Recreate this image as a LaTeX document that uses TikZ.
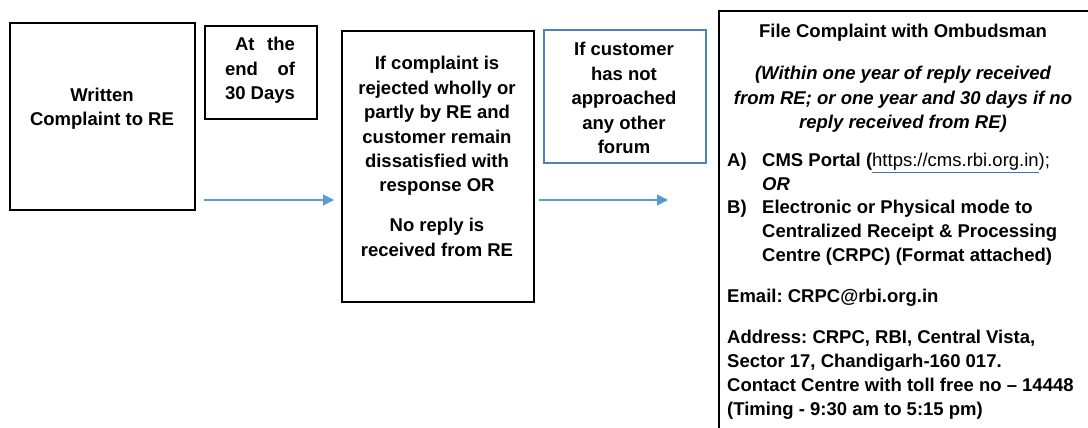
\documentclass[tikz,border=0pt]{standalone}
\usepackage{fontspec}
\setmainfont{Liberation Sans}
\usetikzlibrary{arrows.meta}
\definecolor{arrowblue}{RGB}{91,155,213}
\definecolor{frameblue}{RGB}{79,129,189}
\definecolor{linkblue}{RGB}{68,114,196}
\newcommand\linkul[1]{{\color{linkblue}\underline{\color{black}#1}}}
\frenchspacing
\begin{document}
\begin{tikzpicture}[x=1pt,y=-1pt,
  box/.style={draw=black, line width=1.8pt, anchor=north west, inner sep=0pt},
  txt/.style={font=\frenchspacing\bfseries\fontsize{18.5}{24.4}\selectfont, align=center, inner sep=0pt},
  rtxt/.style={font=\frenchspacing\bfseries\fontsize{18.5}{24.4}\selectfont, inner sep=0pt, anchor=base west},
  flow/.style={draw=arrowblue, line width=1.2pt, -{Triangle[length=11pt,width=11pt]}}]
\useasboundingbox (0,0) rectangle (1088,428);
\clip (0,0) rectangle (1088,428);
\fill[white] (0,0) rectangle (1088,428);

\node[box, minimum width=185pt, minimum height=187pt] (b1) at (9,22) {};
\node[txt] (t1) at (102,108.5) {Written\\Complaint to RE};

\node[box, minimum width=112pt, minimum height=93pt] (b2) at (204,25) {};
\node[txt] (t2) at (260,70.5) {\hspace*{10pt}\makebox[60pt][s]{At the}\\\makebox[70pt][s]{end of}\\30 Days};

\node[box, minimum width=192pt, minimum height=271pt] (b3) at (341,30) {};
\node[txt] (t3) at (437,156.5) {If complaint is\\rejected wholly or\\partly by RE and\\customer remain\\dissatisfied with\\response OR\\[15.6pt]No reply is\\received from RE};

\node[box, draw=frameblue, line width=1.6pt, minimum width=162pt, minimum height=133pt] (b4) at (543,29) {};
\node[txt] (t4) at (624,98) {If customer\\has not\\approached\\any other\\forum};

\node[box, minimum width=380pt, minimum height=440pt] (b5) at (718,10) {};

\coordinate (a1s) at (204,200);
\coordinate (a1e) at (334,200);
\draw[flow] (a1s) -- (a1e);
\coordinate (a2s) at (539,200);
\coordinate (a2e) at (668,200);
\draw[flow] (a2s) -- (a2e);

\node[txt, anchor=base] (r0) at (903,37.5) {File Complaint with Ombudsman};
\node[txt, anchor=base] (r1) at (903,79.5) {\itshape (Within one year of reply received};
\node[txt, anchor=base] (r2) at (903,104) {\itshape from RE; or one year and 30 days if no};
\node[txt, anchor=base] (r3) at (903,128.5) {\itshape reply received from RE)};
\node[rtxt] (ral) at (727,166.5) {A)};
\node[rtxt] (ra1) at (762,166.5) {CMS Portal ({\mdseries\linkul{https://cms.rbi.org.in});}};
\node[rtxt] (ra2) at (762,190.5) {\itshape OR};
\node[rtxt] (rbl) at (727,213.5) {B)};
\node[rtxt] (rb1) at (762,213.5) {Electronic or Physical mode to};
\node[rtxt] (rb2) at (762,237.5) {Centralized Receipt \& Processing};
\node[rtxt] (rb3) at (762,261.5) {Centre (CRPC) (Format attached)};
\node[rtxt] (re) at (727,302.5) {Email: CRPC@rbi.org.in};
\node[rtxt] (rd1) at (727,343.5) {Address: CRPC, RBI, Central Vista,};
\node[rtxt] (rd2) at (727,367.5) {Sector 17, Chandigarh-160 017.};
\node[rtxt] (rd3) at (727,391.5) {Contact Centre with toll free no -- 14448};
\node[rtxt] (rd4) at (727,415.5) {(Timing - 9:30 am to 5:15 pm)};
\end{tikzpicture}
\end{document}
